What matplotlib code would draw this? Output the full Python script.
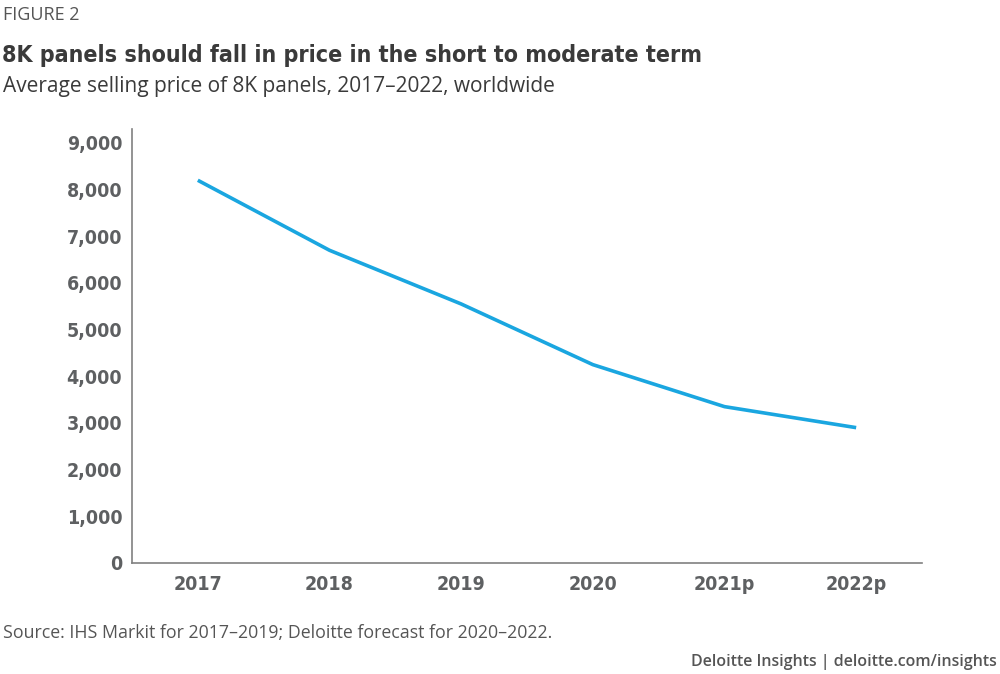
import matplotlib
matplotlib.use("Agg")
import matplotlib.pyplot as plt
from matplotlib import font_manager
from matplotlib.font_manager import FontProperties

years = ["2017", "2018", "2019", "2020", "2021p", "2022p"]
price = [8200, 6700, 5550, 4250, 3350, 2900]
yticks = [0, 1000, 2000, 3000, 4000, 5000, 6000, 7000, 8000, 9000]

# look for a condensed bold face, fall back to Roboto bold
cond = None
for f in font_manager.fontManager.ttflist:
    narrowish = ("condensed" in str(f.stretch).lower() or "Narrow" in f.name
                 or "Condensed" in f.name)
    if narrowish and f.weight in (700, "bold"):
        cond = f.fname
        break
if cond:
    bold_fp = lambda size: FontProperties(fname=cond, size=size)
else:
    bold_fp = lambda size: FontProperties(family="Roboto", weight="bold", size=size)
body = "Open Sans"

line_col = "#1aa6e0"
text_col = "#3a3a3a"
tick_col = "#5e6062"
axis_col = "#808080"

fig = plt.figure(figsize=(10, 6.74), dpi=100)
ax = fig.add_axes([0.132, 0.1647, 0.79, 0.644])

x = list(range(len(years)))
ax.plot(x, price, color=line_col, linewidth=2.6, solid_joinstyle="round",
        solid_capstyle="butt")

ax.set_xlim(-0.5, 5.5)
ax.set_ylim(0, 9300)
ax.set_yticks(yticks)
ax.set_yticklabels([f"{v:,}" for v in yticks])
ax.set_xticks(x)
ax.set_xticklabels(years)

for s in ["top", "right"]:
    ax.spines[s].set_visible(False)
for s in ["left", "bottom"]:
    ax.spines[s].set_color(axis_col)
    ax.spines[s].set_linewidth(1.2)
ax.tick_params(axis="y", length=0, pad=7)
ax.tick_params(axis="x", length=0, pad=9)
for lbl in ax.get_xticklabels() + ax.get_yticklabels():
    lbl.set_fontproperties(bold_fp(14 if cond else 13.5))
    lbl.set_color(tick_col)

fig.text(0.003, 0.970, "FIGURE 2", fontsize=13, family=body, color="#555555", va="baseline")
title = fig.text(0.002, 0.908, "8K panels should fall in price in the short to moderate term",
                 fontproperties=bold_fp(24), color=text_col, va="baseline")
fig.text(0.003, 0.8635, "Average selling price of 8K panels, 2017\u20132022, worldwide",
         fontsize=15, family=body, color=text_col, va="baseline")
fig.text(0.003, 0.053, "Source: IHS Markit for 2017\u20132019; Deloitte forecast for 2020\u20132022.",
         fontsize=12.8, family=body, color="#555555", va="baseline")
fig.text(0.997, 0.012, "Deloitte Insights | deloitte.com/insights",
         fontsize=11.5, family=body, fontweight="semibold", color="#555555",
         ha="right", va="baseline")

# fit the title to the width it takes in the original (about 702 px)
r = fig.canvas.get_renderer()
w = title.get_window_extent(r).width
title.set_fontsize(24 * 702 / w)

fig.savefig("out.png", dpi=100)
